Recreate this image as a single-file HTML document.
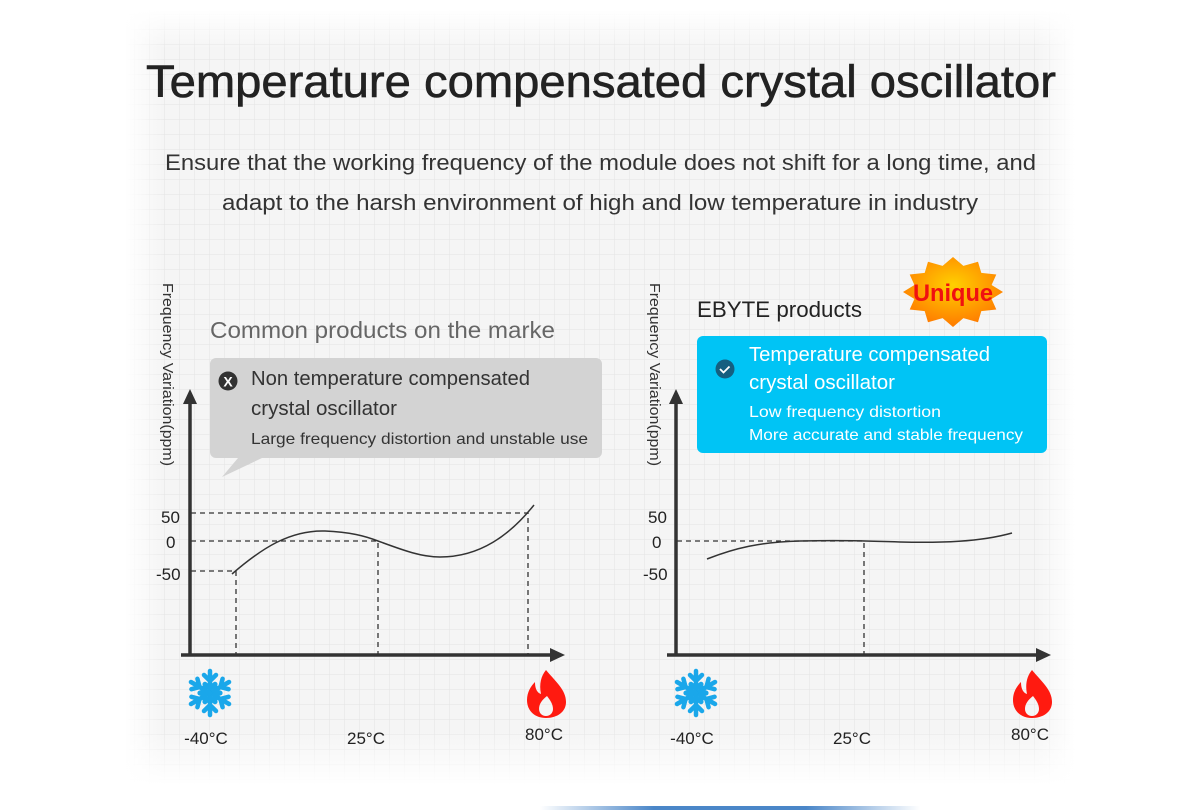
<!DOCTYPE html>
<html><head><meta charset="utf-8"><style>
html,body{margin:0;padding:0;background:#fff;}
svg{display:block;font-family:"Liberation Sans","Noto Sans CJK SC",sans-serif;}
</style></head><body>
<svg width="1200" height="810" viewBox="0 0 1200 810" xmlns="http://www.w3.org/2000/svg">
<defs>
<pattern id="g" width="15" height="15" patternUnits="userSpaceOnUse">
<rect width="15" height="15" fill="#f5f5f5"/>
<path d="M15 0V15M0 15H15" stroke="#e4e4e4" stroke-width="1"/>
</pattern>
<linearGradient id="fx" x1="0" x2="1" y1="0" y2="0">
<stop offset="0" stop-color="#fff" stop-opacity="1"/><stop offset="0.04" stop-color="#fff" stop-opacity="0"/>
<stop offset="0.96" stop-color="#fff" stop-opacity="0"/><stop offset="1" stop-color="#fff" stop-opacity="1"/>
</linearGradient>
<linearGradient id="fy" x1="0" x2="0" y1="0" y2="1">
<stop offset="0" stop-color="#fff" stop-opacity="1"/><stop offset="0.05" stop-color="#fff" stop-opacity="0"/>
<stop offset="0.93" stop-color="#fff" stop-opacity="0"/><stop offset="1" stop-color="#fff" stop-opacity="1"/>
</linearGradient>
<linearGradient id="bl" x1="0" x2="1"><stop offset="0" stop-color="#4a86c8" stop-opacity="0"/><stop offset="0.3" stop-color="#4a86c8"/><stop offset="0.7" stop-color="#4a86c8"/><stop offset="1" stop-color="#4a86c8" stop-opacity="0"/></linearGradient>
<radialGradient id="st" cx="0.5" cy="0.4" r="0.6"><stop offset="0" stop-color="#ffd000"/><stop offset="1" stop-color="#ff7a00"/></radialGradient>
<marker id="ar" markerWidth="16" markerHeight="14" refX="1" refY="7" orient="auto" markerUnits="userSpaceOnUse"><path d="M0 0L15 7L0 14Z" fill="#333"/></marker>
<g id="arm"><path d="M0 0V-22M-6 -18L0 -12L6 -18M-5 -9L0 -5L5 -9" stroke="#1aa7ea" stroke-width="4.5" fill="none" stroke-linecap="round"/></g>
<g id="flake"><use href="#arm"/><use href="#arm" transform="rotate(60)"/><use href="#arm" transform="rotate(120)"/><use href="#arm" transform="rotate(180)"/><use href="#arm" transform="rotate(240)"/><use href="#arm" transform="rotate(300)"/></g>
</defs>
<rect x="125" y="10" width="950" height="775" fill="url(#g)"/>
<rect x="125" y="10" width="950" height="775" fill="url(#fx)"/>
<rect x="125" y="10" width="950" height="775" fill="url(#fy)"/>
<rect x="540" y="806" width="380" height="4" fill="url(#bl)"/>

<text x="146" y="97" font-size="45" fill="#222" stroke="#222" stroke-width="0.6" textLength="910" lengthAdjust="spacingAndGlyphs">Temperature compensated crystal oscillator</text>
<text x="165" y="170" font-size="22" fill="#333" textLength="871" lengthAdjust="spacingAndGlyphs">Ensure that the working frequency of the module does not shift for a long time, and</text>
<text x="222" y="210" font-size="22" fill="#333" textLength="756" lengthAdjust="spacingAndGlyphs">adapt to the harsh environment of high and low temperature in industry</text>

<!-- LEFT CHART -->
<text transform="translate(163,283) rotate(90)" font-size="15" fill="#333" textLength="183" lengthAdjust="spacingAndGlyphs">Frequency Variation(ppm)</text>
<text x="210" y="338" font-size="23" fill="#666" textLength="345" lengthAdjust="spacingAndGlyphs">Common products on the marke</text>
<path d="M216 358H596a6 6 0 0 1 6 6V452a6 6 0 0 1-6 6H262L222 477L238 458H216a6 6 0 0 1-6-6V364a6 6 0 0 1 6-6Z" fill="#d3d3d3"/>
<circle cx="228" cy="381" r="9.5" fill="#333"/>
<text x="228" y="386.5" font-size="14" fill="#fff" font-weight="bold" text-anchor="middle">X</text>
<text x="251" y="385" font-size="20" fill="#333" textLength="279" lengthAdjust="spacingAndGlyphs">Non temperature compensated</text>
<text x="251" y="415" font-size="20" fill="#333" textLength="146" lengthAdjust="spacingAndGlyphs">crystal oscillator</text>
<text x="251" y="444" font-size="16" fill="#333" textLength="337" lengthAdjust="spacingAndGlyphs">Large frequency distortion and unstable use</text>

<g stroke="#333" stroke-width="1.3" stroke-dasharray="5,4" fill="none">
<path d="M191 513H528V655"/><path d="M191 541H378V655"/><path d="M191 571H236V655"/>
</g>
<line x1="190" y1="655" x2="190" y2="403" stroke="#333" stroke-width="3.5" marker-end="url(#ar)"/>
<line x1="181" y1="655" x2="551" y2="655" stroke="#333" stroke-width="3.5" marker-end="url(#ar)"/>
<path d="M232 574C262 548 290 530 325 531C350 532 365 536 378 541C400 549 420 557 440 557C480 557 510 535 534 505" fill="none" stroke="#333" stroke-width="1.5"/>
<g font-size="17" fill="#222">
<text x="161" y="523">50</text><text x="166" y="548">0</text><text x="156" y="580">-50</text>
<text x="206" y="744" text-anchor="middle">-40°C</text><text x="366" y="744" text-anchor="middle">25°C</text><text x="544" y="740" text-anchor="middle">80°C</text>
</g>
<use href="#flake" transform="translate(210,693)"/>
<path d="M546 670C556 682 566 690 566 702C566 712 557 718 546 718C535 718 527 711 527 700C527 692 531 686 535 682C535 690 538 693 541 694C539 684 541 676 546 670ZM547 696C542 700 539 704 539 709C539 713 542 716 546 716C550 716 553 713 553 709C553 704 550 700 547 696Z" fill="#ff1a10" fill-rule="evenodd"/>

<!-- RIGHT CHART -->
<text transform="translate(650,283) rotate(90)" font-size="15" fill="#333" textLength="183" lengthAdjust="spacingAndGlyphs">Frequency Variation(ppm)</text>
<text x="697" y="317" font-size="22" fill="#222" textLength="165" lengthAdjust="spacingAndGlyphs">EBYTE products</text>
<polygon fill="url(#st)" points="1003,292 991.6,299 996.3,309.5 981.3,311.1 978,322.3 963.4,318.1 953,327 942.6,318.1 928,322.3 924.7,311.1 909.7,309.5 914.4,299 903,292 914.4,285 909.7,274.5 924.7,272.9 928,261.7 942.6,265.9 953,257 963.4,265.9 978,261.7 981.3,272.9 996.3,274.5 991.6,285"/>
<text x="953" y="301" font-size="24" font-weight="bold" fill="#f01010" text-anchor="middle" textLength="80" lengthAdjust="spacingAndGlyphs">Unique</text>
<rect x="697" y="336" width="350" height="117" rx="6" fill="#00c4f5"/>
<circle cx="725" cy="369" r="9.5" fill="#155f80"/>
<path d="M720 369l3.5 3.5l6-6" stroke="#fff" stroke-width="1.8" fill="none"/>
<text x="749" y="361" font-size="20" fill="#fff" textLength="241" lengthAdjust="spacingAndGlyphs">Temperature compensated</text>
<text x="749" y="389" font-size="20" fill="#fff" textLength="146" lengthAdjust="spacingAndGlyphs">crystal oscillator</text>
<text x="749" y="417" font-size="16" fill="#fff" textLength="192" lengthAdjust="spacingAndGlyphs">Low frequency distortion</text>
<text x="749" y="440" font-size="16" fill="#fff" textLength="274" lengthAdjust="spacingAndGlyphs">More accurate and stable frequency</text>

<path d="M677 541H864V655" stroke="#333" stroke-width="1.3" stroke-dasharray="5,4" fill="none"/>
<line x1="676" y1="655" x2="676" y2="403" stroke="#333" stroke-width="3.5" marker-end="url(#ar)"/>
<line x1="667" y1="655" x2="1037" y2="655" stroke="#333" stroke-width="3.5" marker-end="url(#ar)"/>
<path d="M707 559C735 548 760 542 800 541C840 540 870 541 900 542C940 543 980 542 1012 533" fill="none" stroke="#333" stroke-width="1.5"/>
<g font-size="17" fill="#222">
<text x="648" y="523">50</text><text x="652" y="548">0</text><text x="643" y="580">-50</text>
<text x="692" y="744" text-anchor="middle">-40°C</text><text x="852" y="744" text-anchor="middle">25°C</text><text x="1030" y="740" text-anchor="middle">80°C</text>
</g>
<use href="#flake" transform="translate(696,693)"/>
<path d="M1032 670C1042 682 1052 690 1052 702C1052 712 1043 718 1032 718C1021 718 1013 711 1013 700C1013 692 1017 686 1021 682C1021 690 1024 693 1027 694C1025 684 1027 676 1032 670ZM1033 696C1028 700 1025 704 1025 709C1025 713 1028 716 1032 716C1036 716 1039 713 1039 709C1039 704 1036 700 1033 696Z" fill="#ff1a10" fill-rule="evenodd"/>
</svg>
</body></html>
